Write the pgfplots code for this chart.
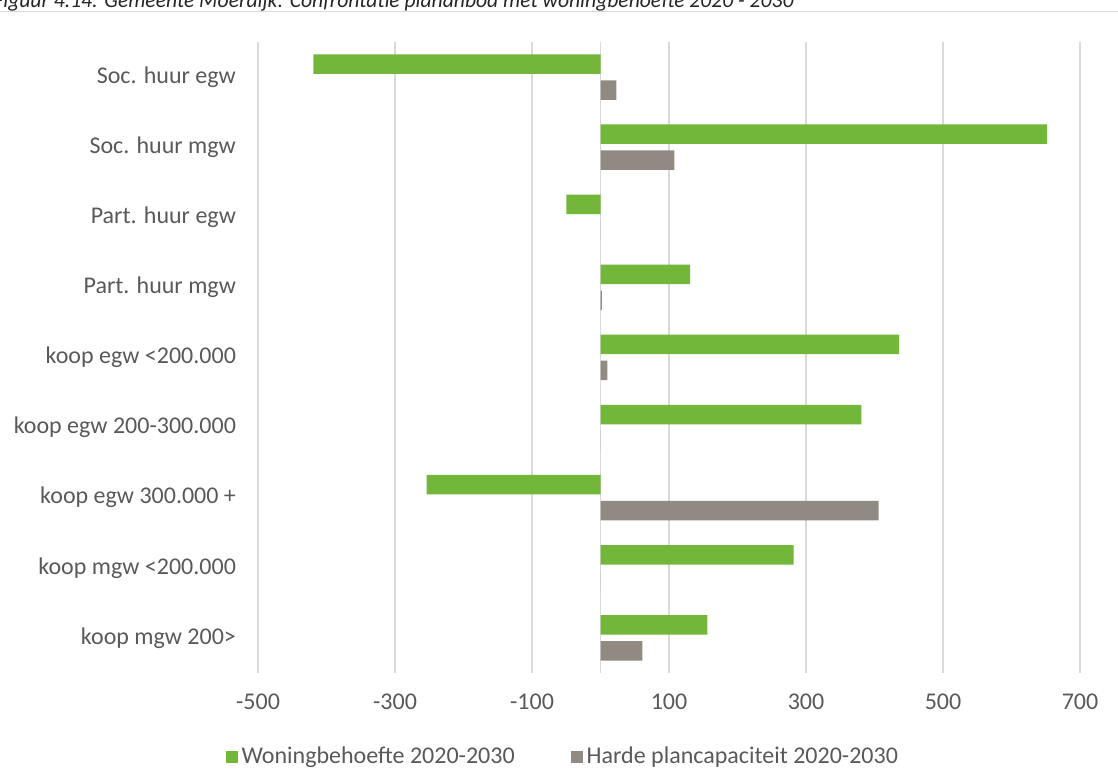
\documentclass[border=0pt]{standalone}
\usepackage{pgfplots}
\pgfplotsset{compat=1.18}
\usepackage{fontspec}
\setmainfont{Carlito}
\definecolor{grn}{HTML}{72B73A}
\definecolor{gry}{HTML}{918A83}
\definecolor{gridc}{HTML}{D9D9D9}
\definecolor{txt}{HTML}{595959}
\begin{document}
\begin{tikzpicture}
\path[use as bounding box] (0,0) rectangle (559pt,385pt);
\node[anchor=base west, font=\fontsize{10.8}{13}\selectfont\itshape, text=black!85, inner sep=0] at (-3.5pt,381.2pt) {Figuur 4.14: Gemeente Moerdijk: Confrontatie plananbod met woningbehoefte 2020 - 2030};
\draw[gridc, line width=0.6pt] (0,379.3pt) -- (559pt,379.3pt);
\begin{axis}[at={(129pt,48.5pt)}, anchor=south west, scale only axis, width=411pt, height=315.5pt,
 xmin=-500, xmax=700, ymin=-0.5, ymax=8.5,
 xbar, bar width=9.75pt,
 xtick={-500,-300,-100,100,300,500,700}, xticklabels={-500,-300,-100,100,300,500,700},
 extra x ticks={0}, extra x tick labels={},
 ytick={0,...,8}, yticklabels={koop mgw 200>, koop mgw <200.000, koop egw 300.000 +, koop egw 200-300.000, koop egw <200.000, Part. huur mgw, Part. huur egw, Soc. huur mgw, Soc. huur egw},
 xmajorgrids, grid style={gridc, line width=0.75pt},
 axis line style={draw=none}, major tick length=0pt,
 tick label style={font=\fontsize{12}{14}\selectfont, text=txt},
 yticklabel style={xshift=-7.5pt},
 xticklabel style={yshift=-7pt},
 legend style={at={(0.372,-0.133)}, anchor=center, legend columns=2, draw=none, fill=none, font=\fontsize{12}{14}\selectfont, text=txt, /tikz/every even column/.append style={column sep=26pt}},
 legend image code/.code={\draw[#1,draw=none] (0pt,-3pt) rectangle (6pt,3pt);},
]
\addplot[fill=grn, draw=none, bar shift=6.5pt] coordinates {(-419,8) (652,7) (-50,6) (131,5) (436,4) (381,3) (-254,2) (282,1) (156,0)};
\addplot[fill=gry, draw=none, bar shift=-6.5pt] coordinates {(23,8) (108,7) (0,6) (2,5) (10,4) (0,3) (406,2) (0,1) (61,0)};
\legend{Woningbehoefte 2020-2030, Harde plancapaciteit 2020-2030}
\end{axis}
\end{tikzpicture}
\end{document}
